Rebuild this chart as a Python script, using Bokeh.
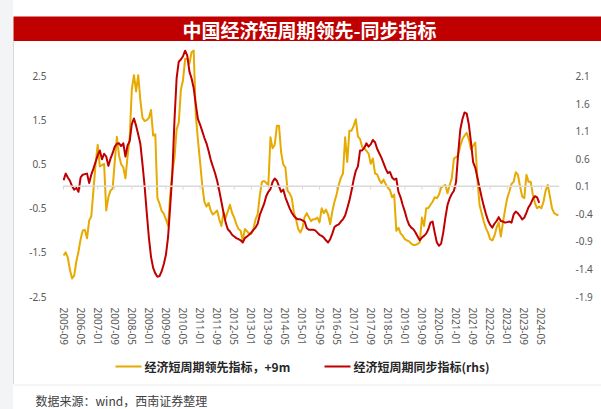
import pandas as pd
from bokeh.plotting import figure
from bokeh.models import (Range1d, LinearAxis, FixedTicker, NumeralTickFormatter, Span,
                          Spacer, GlobalInlineStyleSheet)
from bokeh.layouts import column, row
from bokeh.core.properties import value
from bokeh.embed import file_html
from bokeh.resources import INLINE

title_text = "中国经济短周期领先-同步指标"
source_text = "数据来源：wind，西南证券整理"
lead_label = "经济短周期领先指标，+9m"
coin_label = "经济短周期同步指标(rhs)"

lead_start, lead_end = "2005-09", "2025-01"
coin_start, coin_end = "2005-09", "2024-04"

lead_values = [
    -1.57, -1.50, -1.62, -1.90, -2.09, -2.02, -1.70, -1.48, -1.20, -1.00,
    -0.99, -1.18, -0.78, -0.68, -0.10, 0.50, 0.94, 0.45, 0.48, 0.51,
    -0.55, -0.25, -0.10, -0.05, 0.56, 1.12, 0.70, 0.50, 0.43, 0.18,
    0.68, 1.10, 2.20, 2.52, 2.15, 2.52, 1.95, 1.55, 1.48, 1.50,
    1.55, 1.73, 1.15, 1.18, -0.27, -0.40, -0.56, -0.62, -0.75, -0.90,
    -0.20, 0.33, 0.65, 1.29, 1.44, 2.19, 2.41, 2.89, 2.89, 2.78,
    3.04, 3.08, 1.60, 1.05, 0.55, 0.03, -0.35, -0.46, -0.38, -0.55,
    -0.64, -0.60, -0.55, -0.75, -0.90, -0.60, -0.72, -0.57, -0.42, -0.60,
    -0.71, -0.86, -0.97, -1.01, -1.23, -0.97, -1.02, -1.07, -1.08, -0.97,
    -0.75, -0.64, -0.20, 0.10, 0.12, 0.08, 0.03, 1.11, 0.86, 0.94,
    1.37, 1.37, 0.77, 0.49, 0.43, -0.10, -0.16, -0.27, -0.61, -0.75,
    -0.97, -1.05, -0.95, -0.70, -0.61, -0.70, -0.79, -0.75, -0.75, -0.71,
    -0.82, -0.50, -0.61, -0.53, -0.64, -0.86, -0.57, -0.35, -0.19, 0.03,
    0.19, 0.29, 1.11, 0.55, 1.26, 1.26, 1.37, 1.52, 1.13, 1.07,
    0.89, 0.86, 0.80, 0.74, 0.51, 0.63, 0.29, 0.27, 0.15, 0.07,
    0.15, 0.05, -0.03, -0.08, -0.25, -0.19, -1.01, -0.94, -1.07, -1.12,
    -1.20, -1.23, -1.25, -1.30, -1.33, -1.33, -1.31, -1.27, -0.71, -0.90,
    -0.50, -0.50, -0.42, -0.35, -0.25, -0.27, -0.19, -0.03, 0.00, 0.03,
    -0.16, 0.03, 0.18, 0.63, 0.66, 0.70, 0.92, 1.07, 1.15, 1.21,
    1.07, 0.84, 0.92, 0.99, 0.18, -0.42, -0.61, -0.80, -0.95, -1.05,
    -1.20, -1.23, -1.12, -0.94, -0.82, -1.14, -0.82, -0.53, -0.27, -0.12,
    0.05, 0.10, 0.32, 0.26, 0.00, -0.23, -0.27, 0.26, 0.10, 0.10,
    -0.19, -0.38, -0.50, -0.46, -0.50, -0.35, -0.10, 0.03, -0.23, -0.50,
    -0.61, -0.64, -0.66,
]

coin_values = [
    0.21, 0.33, 0.26, 0.20, 0.10, 0.04, 0.07, 0.00, 0.26, 0.31,
    0.32, 0.33, 0.16, 0.31, 0.42, 0.54, 0.66, 0.75, 0.59, 0.69,
    0.64, 0.47, 0.60, 0.70, 0.82, 0.87, 0.88, 0.83, 0.88, 0.64,
    0.84, 0.92, 1.23, 1.33, 1.20, 1.04, 0.87, 0.50, 0.10, -0.38,
    -0.83, -1.18, -1.38, -1.48, -1.54, -1.53, -1.44, -1.31, -1.14, -0.82,
    -0.26, 0.33, 1.30, 2.06, 2.36, 2.40, 2.46, 2.56, 2.47, 2.18,
    2.06, 1.88, 1.58, 1.32, 1.22, 1.10, 0.98, 0.88, 0.74, 0.58,
    0.46, 0.34, 0.20, 0.02, -0.18, -0.38, -0.56, -0.68, -0.72, -0.78,
    -0.81, -0.84, -0.86, -0.88, -0.92, -0.84, -0.81, -0.78, -0.74, -0.69,
    -0.65, -0.58, -0.42, -0.32, -0.22, -0.08, 0.00, 0.05, 0.18, 0.24,
    0.20, 0.10, 0.00, 0.04, -0.10, -0.20, -0.30, -0.38, -0.44, -0.48,
    -0.50, -0.50, -0.52, -0.54, -0.66, -0.69, -0.69, -0.69, -0.70, -0.74,
    -0.78, -0.80, -0.83, -0.88, -0.92, -0.86, -0.76, -0.64, -0.61, -0.59,
    -0.54, -0.50, -0.43, -0.30, -0.16, 0.02, 0.22, 0.38, 0.46, 0.75,
    0.75, 0.80, 0.88, 0.82, 0.86, 0.94, 0.90, 0.78, 0.70, 0.62,
    0.52, 0.42, 0.34, 0.36, 0.26, 0.22, 0.24, 0.00, -0.10, -0.24,
    -0.36, -0.50, -0.60, -0.65, -0.68, -0.74, -0.81, -0.88, -0.83, -0.80,
    -0.76, -0.68, -0.56, -0.54, -0.74, -0.92, -0.98, -0.94, -0.74, -0.47,
    -0.24, -0.12, -0.04, 0.02, 0.18, 0.70, 1.13, 1.32, 1.44, 1.42,
    1.22, 0.90, 0.54, 0.44, 0.26, 0.08, -0.10, -0.26, -0.40, -0.52,
    -0.60, -0.65, -0.58, -0.53, -0.46, -0.53, -0.54, -0.56, -0.55, -0.54,
    -0.56, -0.41, -0.36, -0.39, -0.44, -0.50, -0.47, -0.38, -0.28, -0.22,
    -0.13, -0.08, -0.10, -0.20,
]

x_tick_labels = [
    "2005-09", "2006-05", "2007-01", "2007-09", "2008-05", "2009-01", "2009-09",
    "2010-05", "2011-01", "2011-09", "2012-05", "2013-01", "2013-09", "2014-05",
    "2015-01", "2015-09", "2016-05", "2017-01", "2017-09", "2018-05", "2019-01",
    "2019-09", "2020-05", "2021-01", "2021-09", "2022-05", "2023-01", "2023-09",
    "2024-05",
]
left_ticks = [-2.5, -1.5, -0.5, 0.5, 1.5, 2.5]
right_ticks = [-1.9, -1.4, -0.9, -0.4, 0.1, 0.6, 1.1, 1.6, 2.1]

LEAD_COLOR = "#e6aa00"
COIN_COLOR = "#c00000"
GRAY_TEXT = "#595959"
BORDER = "#d9d9d9"
CJK = "Noto Sans CJK SC"

FIG_W = 587
MB_L, MB_R = 48, 42


def month_index(s):
    y, m = s.split("-")
    return (int(y) - 2005) * 12 + int(m) - 9


lead_x = [month_index(str(p)) for p in pd.period_range(lead_start, lead_end, freq="M")]
coin_x = [month_index(str(p)) for p in pd.period_range(coin_start, coin_end, freq="M")]
assert len(lead_x) == len(lead_values)
assert len(coin_x) == len(coin_values)
tick_x = [month_index(s) for s in x_tick_labels]

# ---- main chart ----
p = figure(width=FIG_W, height=307, output_backend="svg", toolbar_location=None,
           x_range=Range1d(-0.5, 232.5), y_range=Range1d(-2.545, 3.192),
           min_border_left=MB_L, min_border_right=MB_R, min_border_top=4, min_border_bottom=46,
           background_fill_color="white", border_fill_color="white", outline_line_color=None)
p.extra_y_ranges = {"rhs": Range1d(-1.936, 2.654)}
p.xgrid.visible = False
p.ygrid.visible = False

xa = p.xaxis[0]
xa.ticker = FixedTicker(ticks=tick_x)
xa.major_label_overrides = {t: s for t, s in zip(tick_x, x_tick_labels)}
xa.major_label_orientation = "vertical"
xa.axis_line_color = None
xa.major_tick_line_color = None
xa.minor_tick_line_color = None
xa.major_label_standoff = 3
xa.major_label_text_font = "Noto Sans"
xa.major_label_text_font_size = "10px"
xa.major_label_text_color = GRAY_TEXT

ya = p.yaxis[0]
ya.ticker = FixedTicker(ticks=left_ticks)
ya.formatter = NumeralTickFormatter(format="0.0")

ra = LinearAxis(y_range_name="rhs", ticker=FixedTicker(ticks=right_ticks),
                formatter=NumeralTickFormatter(format="0.0"))
p.add_layout(ra, "right")

for ax in (ya, ra):
    ax.axis_line_color = None
    ax.major_tick_line_color = None
    ax.minor_tick_line_color = None
    ax.major_label_standoff = 10
    ax.major_label_text_font = "Noto Sans"
    ax.major_label_text_font_size = "10px"
    ax.major_label_text_color = GRAY_TEXT

p.add_layout(Span(location=0, dimension="width", line_color=BORDER, line_width=1.5))
p.segment(x0=tick_x, y0=[0] * len(tick_x), x1=tick_x, y1=[-0.08] * len(tick_x),
          line_color=BORDER, line_width=1)

r_lead = p.line(lead_x, lead_values, line_color=LEAD_COLOR, line_width=2, line_join="round")
r_coin = p.line(coin_x, coin_values, line_color=COIN_COLOR, line_width=2, line_join="round",
                y_range_name="rhs")

# ---- legend strip: same frame as the chart above, ranges in figure pixels ----
LEG_H = 36
lf = figure(width=FIG_W, height=LEG_H, output_backend="svg", toolbar_location=None,
            x_range=Range1d(MB_L, FIG_W - MB_R), y_range=Range1d(0, LEG_H),
            x_axis_type=None, y_axis_type=None, min_border=0,
            min_border_left=MB_L, min_border_right=MB_R,
            background_fill_color="white", border_fill_color="white", outline_line_color=None)
lf.grid.visible = False
swatch_left = [101, 310]
swatch_len = 26
row_y = LEG_H - 18
lf.segment(x0=swatch_left, x1=[v + swatch_len for v in swatch_left],
           y0=[row_y, row_y], y1=[row_y, row_y],
           line_color=[LEAD_COLOR, COIN_COLOR], line_width=2)
lf.text(x=[v + swatch_len + 3 for v in swatch_left], y=[row_y, row_y],
        text=[lead_label, coin_label], text_color="#262626",
        text_font=value(CJK), text_font_style="bold", text_font_size="12px",
        text_align="left", text_baseline="middle")

# ---- title bar ----
TW = 588
t = figure(width=TW, height=41, output_backend="svg", toolbar_location=None,
           x_range=Range1d(0, TW), y_range=Range1d(0, 25), x_axis_type=None, y_axis_type=None,
           min_border=0, min_border_top=16, background_fill_color=COIN_COLOR,
           border_fill_color="white", outline_line_color=None)
t.grid.visible = False
t.text(x=[296], y=[12.5], text=[title_text], text_color="white",
       text_font=value(CJK), text_font_style="bold", text_font_size="19px",
       text_align="center", text_baseline="middle")

# ---- source line (1px top border in the box colour) ----
s = figure(width=TW, height=25, output_backend="svg", toolbar_location=None,
           x_range=Range1d(0, TW), y_range=Range1d(0, 24), x_axis_type=None, y_axis_type=None,
           min_border=0, min_border_top=1, background_fill_color="white",
           border_fill_color=BORDER, outline_line_color=None)
s.grid.visible = False
s.text(x=[22], y=[9], text=[source_text], text_color="#404040",
       text_font=value(CJK), text_font_size="12px",
       text_align="left", text_baseline="middle")

body = column(
    t,
    row(Spacer(width=1, height=343, styles={"background-color": BORDER}), column(p, lf)),
    s,
)
root = row(Spacer(width=13, height=409), body,
           stylesheets=[GlobalInlineStyleSheet(
               css="body { background: linear-gradient(to right, #f3f4f6 0px, #f3f4f6 13px, #ffffff 13px); }")])

open("out.html", "w").write(file_html(root, INLINE))
